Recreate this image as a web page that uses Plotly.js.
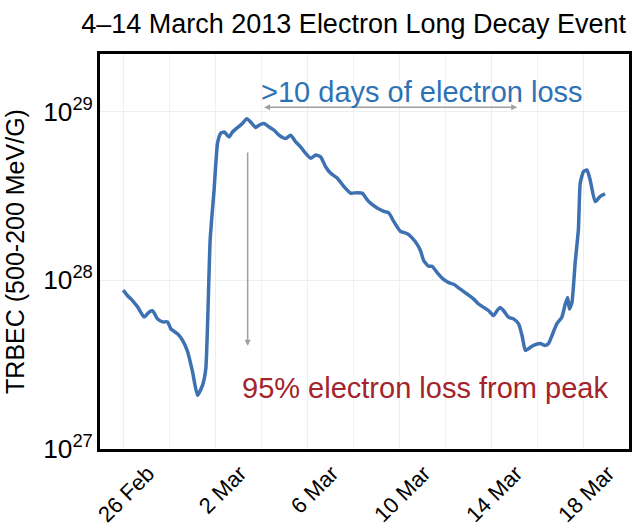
<!DOCTYPE html>
<html>
<head>
<meta charset="utf-8">
<script src="https://cdn.plot.ly/plotly-3.0.1.min.js"></script>
<style>html,body{margin:0;padding:0;background:#fff;}#chart{width:643px;height:529px;}</style>
</head>
<body>
<div id="chart"></div>
<script>
// Day of March 2013 (Mar 1 = 1, Feb 28 = 0, Feb 26 = -2)
const marchDay = [-1.99,-1.80,-1.58,-1.36,-1.08,-0.86,-0.71,-0.50,-0.28,-0.06,
  0.08,0.37,0.59,0.81,1.02,1.24,1.46,1.60,1.79,1.96,
  2.11,2.25,2.40,2.61,2.76,2.98,3.19,3.38,3.55,3.77,
  3.91,4.13,4.35,4.57,4.78,5.07,5.29,5.51,5.72,5.94,
  6.16,6.38,6.59,6.81,7.02,7.32,7.60,7.89,8.18,8.40,
  8.62,8.76,9.05,9.34,9.56,9.77,10.06,10.35,10.57,10.79,
  10.94,11.08,11.29,11.44,11.66,11.94,12.16,12.38,12.67,12.96,
  13.25,13.46,13.68,13.90,14.11,14.26,14.40,14.55,14.76,14.98,
  15.20,15.35,15.49,15.63,15.85,16.14,16.36,16.50,16.65,16.86,
  17.08,17.23,17.33,17.41,17.52,17.66,17.80,17.88,18.02,18.17,
  18.31,18.53,18.74,18.96];
// TRBEC in units of 1e27 MeV/G
const trbecE27 = [8.73,8.09,7.55,6.93,6.05,6.49,6.59,5.90,5.66,5.66,
  5.15,4.81,4.40,3.77,2.88,2.08,2.39,2.99,17.4,34.3,
  64.9,74.3,75.5,70.6,75.5,80.2,84.7,90.6,86.5,80.2,
  82.8,84.7,80.9,77.3,72.3,69.0,72.3,65.9,61.7,56.4,
  52.7,55.1,53.8,47.0,43.1,40.2,35.9,32.8,33.0,32.8,
  29.9,28.6,26.8,25.6,25.0,22.3,19.5,18.9,17.8,16.3,
  14.9,13.0,12.1,12.1,11.1,10.1,9.68,9.46,8.85,8.28,
  7.73,7.23,6.90,6.59,6.17,6.59,6.90,6.59,6.04,5.90,
  5.51,4.70,3.84,3.93,4.11,4.21,4.11,4.21,4.70,5.51,
  6.04,7.23,7.91,6.75,7.40,12.7,20.0,37.6,44.0,45.0,
  39.3,29.2,31.3,32.5];
const tickDays = [-2, 2, 6, 10, 14, 18];
const tickLabels = ['26 Feb', '2 Mar', '6 Mar', '10 Mar', '14 Mar', '18 Mar'];
const titleText = '4\u201314 March 2013 Electron Long Decay Event';
const yTitle = 'TRBEC (500-200 MeV/G)';
const noteTop = '>10 days of electron loss';
const noteBottom = '95% electron loss from peak';

const FONT = 'Liberation Sans, Arial, Helvetica, sans-serif';

const trace = {
  x: marchDay,
  y: trbecE27.map(v => v * 1e27),
  type: 'scatter',
  mode: 'lines',
  line: {color: '#3d71b2', width: 3.5, shape: 'spline', smoothing: 0.5},
  hoverinfo: 'skip'
};

const layout = {
  width: 643, height: 529,
  margin: {l: 100, r: 14, t: 54, b: 80},
  paper_bgcolor: '#ffffff', plot_bgcolor: '#ffffff',
  showlegend: false,
  font: {family: FONT, color: '#000'},
  title: {text: titleText, font: {size: 27, family: FONT, color: '#000'},
          xref: 'container', x: 0.55, xanchor: 'center', yref: 'container', y: 0.955, yanchor: 'middle'},
  xaxis: {
    range: [-3, 20], tickmode: 'array', tickvals: tickDays, ticktext: tickLabels,
    tickangle: -45, tickfont: {size: 22, family: FONT, color: '#000'},
    ticklabelshift: 25, ticks: '',
    showline: true, linecolor: '#000', linewidth: 3, mirror: true,
    showgrid: true, gridcolor: '#efefef', gridwidth: 1, zeroline: false,
    minor: {dtick: 2, tick0: 0, showgrid: true, gridcolor: '#f2f2f2', gridwidth: 1}
  },
  yaxis: {
    type: 'log', range: [27, 29.34], dtick: 1, exponentformat: 'power',
    tickfont: {size: 21, family: FONT, color: '#000'}, ticks: '',
    showline: true, linecolor: '#000', linewidth: 3, mirror: true,
    showgrid: true, gridcolor: '#efefef', gridwidth: 1, zeroline: false,
    title: {text: yTitle, font: {size: 25, family: FONT, color: '#000'}, standoff: 12}
  },
  annotations: [
    {xref: 'x', yref: 'y', x: 15.14, y: 29.024, axref: 'x', ayref: 'y', ax: 4.07, ay: 29.024,
     text: '', showarrow: true, arrowside: 'end+start', arrowhead: 2, startarrowhead: 2,
     arrowsize: 0.8, startarrowsize: 0.8, arrowwidth: 1.5, arrowcolor: '#a0a0a0'},
    {xref: 'x', yref: 'y', x: 3.42, y: 27.612, axref: 'x', ayref: 'y', ax: 3.42, ay: 28.765,
     text: '', showarrow: true, arrowhead: 2, arrowsize: 0.8, arrowwidth: 1.5, arrowcolor: '#a0a0a0'},
    {xref: 'x', yref: 'y', x: 11.02, y: 29.112, text: noteTop, showarrow: false,
     font: {size: 29, family: FONT, color: '#2e72b6'}, xanchor: 'center', yanchor: 'middle'},
    {xref: 'x', yref: 'y', x: 11.15, y: 27.363, text: noteBottom, showarrow: false,
     font: {size: 29, family: FONT, color: '#a3242a'}, xanchor: 'center', yanchor: 'middle'}
  ]
};

Plotly.newPlot('chart', [trace], layout, {displayModeBar: false, staticPlot: true});
</script>
</body>
</html>
